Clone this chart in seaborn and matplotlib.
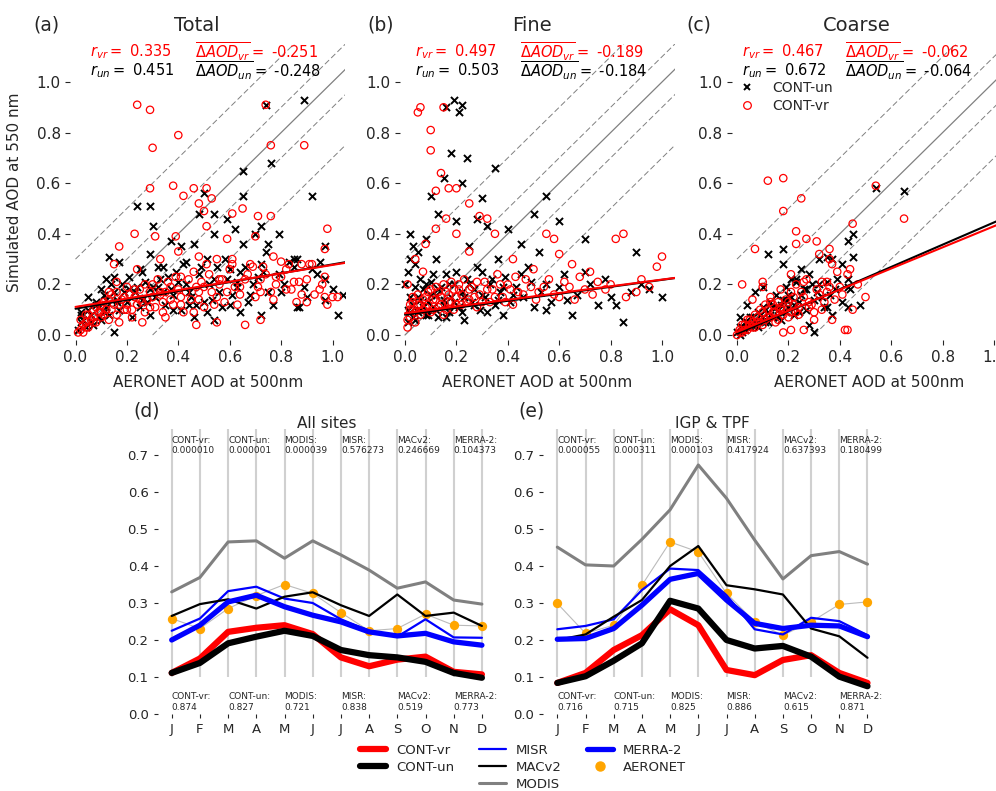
"""
plot.py  -  simulated vs AERONET AOD scatter (a-c) + monthly AOD climatology (d-e)
"""

import numpy as np
import matplotlib
matplotlib.use('Agg')
import matplotlib.pyplot as plt
from matplotlib.lines import Line2D
import seaborn as sns

# ── scatter data : AERONET AOD (x) vs simulated AOD (y) ──────────────────────
TOTAL_UN_X = [0.74, 0.89, 0.76, 0.65, 0.65, 0.92, 0.24, 0.29, 0.50, 0.54, 0.48, 0.59, 0.30,
              0.37, 0.41, 0.46, 0.54, 0.62, 0.70, 0.72, 0.79, 0.75, 0.65, 0.13, 0.17, 0.15,
              0.29, 0.34, 0.29, 0.25, 0.43, 0.51, 0.60, 0.74, 0.85, 0.86, 0.95, 0.97, 1.04,
              1.02, 0.97, 0.86, 0.80, 0.72, 0.64, 0.54, 0.46, 0.15, 0.02, 0.05, 0.10, 0.12,
              0.01, 0.02, 0.04, 0.06, 0.07, 0.09, 0.10, 0.12, 0.13, 0.15, 0.17, 0.18, 0.20,
              0.22, 0.23, 0.25, 0.27, 0.29, 0.31, 0.33, 0.35, 0.37, 0.39, 0.41, 0.43, 0.45,
              0.48, 0.50, 0.52, 0.55, 0.57, 0.59, 0.61, 0.64, 0.67, 0.69, 0.72, 0.75, 0.79,
              0.83, 0.87, 0.89, 0.92, 0.97, 0.03, 0.08, 0.11, 0.16, 0.21, 0.26, 0.32, 0.38,
              0.44, 0.53, 0.63, 0.71,
              0.02, 0.03, 0.05, 0.06, 0.08, 0.09, 0.11, 0.12, 0.14, 0.16, 0.19, 0.21, 0.24,
              0.26, 0.28, 0.30, 0.32, 0.34, 0.36, 0.38, 0.40, 0.42, 0.44, 0.47, 0.49, 0.51,
              0.54, 0.56, 0.58, 0.60, 0.63, 0.66, 0.68, 0.73, 0.77, 0.81, 0.85, 0.90, 0.94,
              1.00]
TOTAL_UN_Y = [0.91, 0.93, 0.68, 0.65, 0.55, 0.55, 0.51, 0.51, 0.56, 0.48, 0.48, 0.46, 0.43,
              0.37, 0.35, 0.36, 0.40, 0.42, 0.40, 0.43, 0.40, 0.36, 0.36, 0.31, 0.29, 0.23,
              0.32, 0.27, 0.18, 0.26, 0.29, 0.30, 0.26, 0.33, 0.30, 0.30, 0.29, 0.35, 0.16,
              0.08, 0.14, 0.11, 0.17, 0.08, 0.09, 0.06, 0.07, 0.01, 0.09, 0.15, 0.18, 0.22,
              0.02, 0.05, 0.03, 0.08, 0.04, 0.11, 0.06, 0.14, 0.08, 0.17, 0.10, 0.20, 0.13,
              0.07, 0.17, 0.11, 0.21, 0.08, 0.15, 0.22, 0.12, 0.18, 0.25, 0.10, 0.20, 0.15,
              0.24, 0.13, 0.20, 0.27, 0.11, 0.22, 0.16, 0.25, 0.13, 0.20, 0.28, 0.17, 0.24,
              0.29, 0.11, 0.19, 0.26, 0.22, 0.06, 0.12, 0.09, 0.13, 0.18, 0.14, 0.19, 0.16,
              0.12, 0.14, 0.19, 0.23,
              0.08, 0.06, 0.10, 0.05, 0.13, 0.07, 0.16, 0.11, 0.20, 0.14, 0.17, 0.23, 0.19,
              0.25, 0.13, 0.19, 0.27, 0.17, 0.23, 0.10, 0.21, 0.28, 0.17, 0.12, 0.27, 0.09,
              0.22, 0.17, 0.30, 0.12, 0.21, 0.27, 0.16, 0.25, 0.12, 0.20, 0.27, 0.15, 0.24,
              0.18]

TOTAL_VR_X = [0.24, 0.29, 0.40, 0.30, 0.74, 0.89, 0.76, 0.29, 0.38, 0.42, 0.46, 0.51, 0.53,
              0.48, 0.50, 0.65, 0.61, 0.23, 0.17, 0.31, 0.39, 0.51, 0.59, 0.71, 0.76, 0.70,
              0.98, 0.97, 0.97, 0.91, 1.02, 0.97, 0.90, 0.72, 0.66, 0.55, 0.47, 0.15, 0.16,
              0.24, 0.33, 0.40, 0.48, 0.55, 0.61, 0.69, 0.77, 0.83, 0.87, 0.82, 0.78, 0.72,
              0.64, 0.56, 0.48, 0.41, 0.33, 0.25, 0.20, 0.13, 0.10, 0.07, 0.04, 0.03,
              0.02, 0.03, 0.05, 0.06, 0.08, 0.09, 0.10, 0.12, 0.13, 0.15, 0.16, 0.18, 0.19,
              0.21, 0.22, 0.24, 0.25, 0.27, 0.28, 0.30, 0.31, 0.33, 0.35, 0.36, 0.38, 0.40,
              0.42, 0.44, 0.45, 0.47, 0.50, 0.52, 0.53, 0.56, 0.58, 0.60, 0.62, 0.66, 0.70,
              0.74, 0.78, 0.82, 0.86, 0.90, 0.95, 1.00, 0.01, 0.04, 0.07, 0.11, 0.14, 0.17,
              0.20, 0.23, 0.26, 0.29, 0.34, 0.37, 0.41, 0.46, 0.49, 0.55, 0.63, 0.68, 0.72,
              0.76, 0.80, 0.84, 0.88, 0.93, 0.98,
              0.02, 0.04, 0.05, 0.07, 0.08, 0.10, 0.11, 0.13, 0.14, 0.16, 0.17, 0.19, 0.20,
              0.22, 0.23, 0.26, 0.27, 0.29, 0.30, 0.32, 0.34, 0.35, 0.37, 0.39, 0.41, 0.43,
              0.46, 0.48, 0.50, 0.51, 0.54, 0.57, 0.59, 0.61, 0.64, 0.67, 0.71, 0.73, 0.77,
              0.80, 0.85, 0.88, 0.92, 0.96]
TOTAL_VR_Y = [0.91, 0.89, 0.79, 0.74, 0.91, 0.75, 0.75, 0.58, 0.59, 0.55, 0.58, 0.58, 0.54,
              0.52, 0.49, 0.50, 0.48, 0.40, 0.35, 0.39, 0.39, 0.43, 0.38, 0.47, 0.47, 0.39,
              0.42, 0.34, 0.23, 0.28, 0.15, 0.15, 0.13, 0.06, 0.04, 0.05, 0.04, 0.28, 0.21,
              0.26, 0.30, 0.33, 0.31, 0.30, 0.28, 0.27, 0.31, 0.28, 0.21, 0.18, 0.23, 0.17,
              0.19, 0.22, 0.17, 0.23, 0.17, 0.14, 0.10, 0.17, 0.09, 0.05, 0.03, 0.01,
              0.02, 0.04, 0.03, 0.06, 0.05, 0.09, 0.07, 0.10, 0.06, 0.12, 0.08, 0.14, 0.10,
              0.16, 0.07, 0.12, 0.18, 0.09, 0.14, 0.20, 0.11, 0.16, 0.07, 0.21, 0.12, 0.18,
              0.09, 0.22, 0.14, 0.19, 0.11, 0.24, 0.17, 0.20, 0.13, 0.26, 0.19, 0.22, 0.15,
              0.24, 0.20, 0.26, 0.13, 0.22, 0.18, 0.15, 0.01, 0.08, 0.10, 0.13, 0.16, 0.05,
              0.12, 0.15, 0.05, 0.17, 0.13, 0.19, 0.15, 0.09, 0.21, 0.15, 0.12, 0.28, 0.22,
              0.17, 0.23, 0.18, 0.28, 0.16, 0.12,
              0.06, 0.05, 0.08, 0.07, 0.11, 0.12, 0.08, 0.14, 0.10, 0.17, 0.12, 0.15, 0.19,
              0.10, 0.18, 0.13, 0.20, 0.11, 0.15, 0.22, 0.09, 0.17, 0.14, 0.23, 0.12, 0.17,
              0.25, 0.14, 0.19, 0.28, 0.12, 0.22, 0.17, 0.30, 0.16, 0.24, 0.19, 0.27, 0.14,
              0.29, 0.21, 0.16, 0.28, 0.20]

FINE_UN_X = [0.19, 0.16, 0.21, 0.22, 0.35, 0.18, 0.24, 0.55, 0.50, 0.22, 0.15, 0.30, 0.10,
             0.13, 0.20, 0.32, 0.40, 0.28, 0.60, 0.70, 0.45, 0.52, 0.90, 0.95, 1.00, 0.80,
             0.85, 0.65, 0.55, 0.38, 0.01, 0.02, 0.03, 0.00, 0.04, 0.05, 0.02, 0.06, 0.08,
             0.12, 0.25, 0.36, 0.48, 0.62, 0.75, 0.72,
             0.01, 0.02, 0.03, 0.04, 0.05, 0.06, 0.07, 0.08, 0.09, 0.10, 0.11, 0.12, 0.13,
             0.14, 0.15, 0.16, 0.17, 0.18, 0.19, 0.21, 0.22, 0.23, 0.24, 0.26, 0.27, 0.29,
             0.30, 0.31, 0.33, 0.35, 0.37, 0.39, 0.41, 0.43, 0.46, 0.49, 0.53, 0.57, 0.60,
             0.67, 0.78, 0.88,
             0.01, 0.02, 0.03, 0.04, 0.05, 0.06, 0.07, 0.08, 0.09, 0.10, 0.11, 0.12, 0.13,
             0.15, 0.16, 0.17, 0.19, 0.20, 0.22, 0.23, 0.25, 0.27, 0.28, 0.30, 0.32, 0.34,
             0.36, 0.38, 0.42, 0.45, 0.50, 0.55, 0.63, 0.70, 0.82, 0.92]
FINE_UN_Y = [0.93, 0.90, 0.88, 0.91, 0.66, 0.72, 0.70, 0.55, 0.48, 0.60, 0.62, 0.54, 0.55,
             0.48, 0.45, 0.43, 0.42, 0.46, 0.45, 0.38, 0.36, 0.33, 0.33, 0.18, 0.15, 0.15,
             0.05, 0.08, 0.10, 0.08, 0.25, 0.30, 0.35, 0.20, 0.28, 0.33, 0.40, 0.22, 0.38,
             0.30, 0.35, 0.30, 0.27, 0.24, 0.12, 0.20,
             0.05, 0.09, 0.12, 0.06, 0.15, 0.10, 0.18, 0.08, 0.13, 0.21, 0.11, 0.16, 0.07,
             0.19, 0.12, 0.24, 0.09, 0.15, 0.20, 0.11, 0.17, 0.06, 0.22, 0.13, 0.18, 0.10,
             0.25, 0.15, 0.20, 0.12, 0.17, 0.23, 0.13, 0.19, 0.15, 0.21, 0.17, 0.13, 0.19,
             0.16, 0.22, 0.17,
             0.10, 0.15, 0.07, 0.19, 0.09, 0.14, 0.11, 0.20, 0.08, 0.16, 0.24, 0.10, 0.18,
             0.14, 0.07, 0.20, 0.13, 0.25, 0.09, 0.15, 0.20, 0.12, 0.27, 0.16, 0.09, 0.22,
             0.14, 0.19, 0.16, 0.24, 0.11, 0.20, 0.14, 0.25, 0.12, 0.20]

FINE_VR_X = [0.05, 0.06, 0.15, 0.10, 0.10, 0.14, 0.17, 0.20, 0.12, 0.25, 0.16, 0.29, 0.32,
             0.12, 0.20, 0.08, 0.35, 0.55, 0.58, 0.60, 0.82, 0.85, 1.00, 0.98, 0.72, 0.42,
             0.25, 0.07, 0.04, 0.01, 0.03, 0.02, 0.65, 0.78, 0.92, 0.50,
             0.01, 0.02, 0.03, 0.04, 0.05, 0.06, 0.07, 0.08, 0.09, 0.10, 0.11, 0.12, 0.13,
             0.14, 0.15, 0.16, 0.17, 0.18, 0.19, 0.20, 0.21, 0.22, 0.23, 0.25, 0.26, 0.28,
             0.29, 0.31, 0.33, 0.34, 0.36, 0.38, 0.40, 0.42, 0.44, 0.47, 0.51, 0.54, 0.58,
             0.62, 0.66, 0.70, 0.75, 0.86, 0.95,
             0.01, 0.02, 0.03, 0.04, 0.05, 0.06, 0.07, 0.08, 0.09, 0.10, 0.11, 0.12, 0.13,
             0.14, 0.15, 0.16, 0.17, 0.18, 0.19, 0.20, 0.21, 0.22, 0.24, 0.25, 0.27, 0.28,
             0.30, 0.32, 0.35, 0.37, 0.39, 0.41, 0.43, 0.46, 0.49, 0.52, 0.56, 0.60, 0.64,
             0.68, 0.73, 0.80, 0.90]
FINE_VR_Y = [0.88, 0.90, 0.90, 0.81, 0.73, 0.64, 0.58, 0.58, 0.57, 0.52, 0.46, 0.47, 0.46,
             0.42, 0.40, 0.36, 0.40, 0.40, 0.38, 0.32, 0.38, 0.40, 0.31, 0.27, 0.25, 0.30,
             0.33, 0.25, 0.30, 0.20, 0.15, 0.12, 0.28, 0.18, 0.22, 0.26,
             0.03, 0.07, 0.10, 0.05, 0.12, 0.08, 0.14, 0.11, 0.17, 0.09, 0.14, 0.19, 0.11,
             0.15, 0.08, 0.17, 0.13, 0.21, 0.10, 0.15, 0.18, 0.12, 0.22, 0.14, 0.19, 0.11,
             0.16, 0.21, 0.13, 0.18, 0.24, 0.15, 0.20, 0.12, 0.17, 0.22, 0.14, 0.19, 0.16,
             0.21, 0.14, 0.18, 0.21, 0.15, 0.19,
             0.06, 0.10, 0.13, 0.09, 0.16, 0.12, 0.10, 0.15, 0.12, 0.18, 0.10, 0.14, 0.17,
             0.12, 0.20, 0.10, 0.16, 0.13, 0.18, 0.12, 0.20, 0.16, 0.13, 0.18, 0.15, 0.21,
             0.13, 0.18, 0.15, 0.20, 0.13, 0.18, 0.23, 0.16, 0.19, 0.17, 0.22, 0.15, 0.19,
             0.23, 0.16, 0.20, 0.17]

COARSE_UN_X = [0.54, 0.65, 0.12, 0.18, 0.45, 0.43, 0.45, 0.32, 0.35, 0.37, 0.41, 0.18,
               0.25, 0.07, 0.10, 0.21, 0.23, 0.27, 0.31, 0.35, 0.43, 0.43, 0.43, 0.37,
               0.35, 0.30, 0.28, 0.24, 0.19, 0.15, 0.04, 0.01,
               0.00, 0.01, 0.02, 0.03, 0.04, 0.05, 0.06, 0.07, 0.08, 0.09, 0.10, 0.11,
               0.12, 0.13, 0.14, 0.15, 0.16, 0.17, 0.18, 0.19, 0.20, 0.21, 0.22, 0.23,
               0.24, 0.26, 0.28, 0.30, 0.32, 0.34, 0.36, 0.39, 0.41, 0.44, 0.48,
               0.01, 0.02, 0.03, 0.04, 0.05, 0.06, 0.07, 0.08, 0.09, 0.10, 0.11, 0.12,
               0.13, 0.14, 0.16, 0.17, 0.19, 0.20, 0.22, 0.25, 0.27, 0.29, 0.33, 0.38]
COARSE_UN_Y = [0.58, 0.57, 0.32, 0.34, 0.40, 0.37, 0.31, 0.30, 0.31, 0.30, 0.28, 0.28,
               0.26, 0.17, 0.19, 0.22, 0.21, 0.18, 0.17, 0.21, 0.19, 0.22, 0.11, 0.08,
               0.11, 0.01, 0.04, 0.09, 0.14, 0.11, 0.12, 0.07,
               0.01, 0.00, 0.03, 0.02, 0.05, 0.03, 0.07, 0.04, 0.09, 0.06, 0.11, 0.05,
               0.09, 0.13, 0.07, 0.16, 0.10, 0.06, 0.14, 0.19, 0.11, 0.15, 0.08, 0.22,
               0.13, 0.18, 0.24, 0.14, 0.20, 0.11, 0.16, 0.22, 0.13, 0.18, 0.12,
               0.03, 0.01, 0.05, 0.03, 0.07, 0.04, 0.06, 0.03, 0.08, 0.07, 0.10, 0.05,
               0.08, 0.11, 0.07, 0.12, 0.09, 0.16, 0.12, 0.16, 0.10, 0.20, 0.15, 0.18]

COARSE_VR_X = [0.12, 0.18, 0.25, 0.18, 0.54, 0.65, 0.23, 0.23, 0.27, 0.31, 0.45, 0.44,
               0.07, 0.36, 0.32, 0.02, 0.10, 0.10, 0.21, 0.26, 0.33, 0.39, 0.43, 0.37,
               0.36, 0.35, 0.37, 0.43, 0.42, 0.30, 0.26, 0.21, 0.18, 0.28, 0.23, 0.17,
               0.13, 0.06,
               0.00, 0.01, 0.02, 0.03, 0.04, 0.05, 0.06, 0.07, 0.08, 0.09, 0.10, 0.11,
               0.12, 0.13, 0.14, 0.15, 0.16, 0.17, 0.18, 0.19, 0.20, 0.21, 0.22, 0.23,
               0.24, 0.26, 0.27, 0.29, 0.31, 0.33, 0.35, 0.38, 0.40, 0.45, 0.47, 0.50,
               0.01, 0.02, 0.03, 0.04, 0.05, 0.06, 0.07, 0.08, 0.09, 0.10, 0.11, 0.12,
               0.13, 0.14, 0.15, 0.16, 0.17, 0.18, 0.20, 0.21, 0.22, 0.24, 0.25, 0.28,
               0.30, 0.32, 0.34, 0.36, 0.41]
COARSE_VR_Y = [0.61, 0.62, 0.54, 0.49, 0.59, 0.46, 0.41, 0.36, 0.38, 0.37, 0.44, 0.26,
               0.34, 0.34, 0.32, 0.20, 0.21, 0.19, 0.24, 0.21, 0.21, 0.25, 0.24, 0.28,
               0.30, 0.17, 0.06, 0.02, 0.02, 0.06, 0.02, 0.02, 0.01, 0.11, 0.09, 0.10,
               0.13, 0.14,
               0.00, 0.02, 0.01, 0.04, 0.02, 0.06, 0.03, 0.08, 0.05, 0.10, 0.04, 0.12,
               0.07, 0.15, 0.09, 0.05, 0.13, 0.18, 0.10, 0.14, 0.07, 0.17, 0.12, 0.20,
               0.08, 0.15, 0.22, 0.12, 0.18, 0.10, 0.21, 0.14, 0.19, 0.10, 0.20, 0.15,
               0.01, 0.04, 0.02, 0.06, 0.04, 0.05, 0.03, 0.07, 0.05, 0.09, 0.06, 0.10,
               0.07, 0.12, 0.09, 0.06, 0.11, 0.08, 0.13, 0.09, 0.15, 0.11, 0.17, 0.13,
               0.09, 0.16, 0.13, 0.19, 0.16]

# regression fits (intercept, slope) and statistics printed in each panel
FIT_VR = [(0.111, 0.166), (0.086, 0.133), (0.012, 0.418)]
FIT_UN = [(0.104, 0.175), (0.080, 0.138), (0.005, 0.440)]
R_VR = ['0.335', '0.497', '0.467']
R_UN = ['0.451', '0.503', '0.672']
BIAS_VR = ['-0.251', '-0.189', '-0.062']
BIAS_UN = ['-0.248', '-0.184', '-0.064']
PANEL_TITLES = ['Total', 'Fine', 'Coarse']
REF_OFFSETS = [-0.3, -0.1, 0.0, 0.1, 0.3]

# ── monthly mean AOD ────────────────────────────────────────────────────────
MONTHS = ['J', 'F', 'M', 'A', 'M', 'J', 'J', 'A', 'S', 'O', 'N', 'D']

ALL_CONT_VR = [0.111, 0.150, 0.222, 0.233, 0.240, 0.216, 0.153, 0.129, 0.147, 0.155, 0.114, 0.107]
ALL_CONT_UN = [0.111, 0.138, 0.191, 0.209, 0.225, 0.211, 0.173, 0.159, 0.153, 0.141, 0.111, 0.098]
ALL_MISR = [0.225, 0.258, 0.332, 0.344, 0.312, 0.300, 0.256, 0.225, 0.209, 0.256, 0.207, 0.206]
ALL_MACV2 = [0.265, 0.297, 0.310, 0.285, 0.317, 0.329, 0.294, 0.265, 0.323, 0.265, 0.274, 0.238]
ALL_MODIS = [0.330, 0.369, 0.465, 0.468, 0.421, 0.468, 0.430, 0.389, 0.340, 0.357, 0.308, 0.297]
ALL_MERRA2 = [0.200, 0.240, 0.303, 0.321, 0.290, 0.267, 0.249, 0.222, 0.211, 0.218, 0.195, 0.186]
ALL_AERONET = [0.258, 0.231, 0.285, 0.320, 0.350, 0.326, 0.274, 0.225, 0.231, 0.270, 0.240, 0.238]

IGP_CONT_VR = [0.084, 0.111, 0.173, 0.213, 0.283, 0.240, 0.119, 0.105, 0.146, 0.159, 0.111, 0.084]
IGP_CONT_UN = [0.084, 0.102, 0.144, 0.191, 0.306, 0.285, 0.200, 0.177, 0.184, 0.155, 0.101, 0.075]
IGP_MISR = [0.229, 0.238, 0.256, 0.335, 0.393, 0.389, 0.321, 0.229, 0.215, 0.260, 0.251, 0.213]
IGP_MACV2 = [0.200, 0.215, 0.263, 0.308, 0.400, 0.454, 0.348, 0.337, 0.323, 0.231, 0.210, 0.152]
IGP_MODIS = [0.451, 0.403, 0.400, 0.472, 0.552, 0.673, 0.583, 0.470, 0.365, 0.428, 0.439, 0.405]
IGP_MERRA2 = [0.202, 0.204, 0.231, 0.294, 0.364, 0.380, 0.308, 0.245, 0.231, 0.240, 0.238, 0.209]
IGP_AERONET = [0.299, 0.218, 0.240, 0.348, 0.465, 0.438, 0.326, 0.249, 0.213, 0.249, 0.296, 0.303]

STAT_NAMES = ['CONT-vr:', 'CONT-un:', 'MODIS:', 'MISR:', 'MACv2:', 'MERRA-2:']
ALL_PVAL = ['0.000010', '0.000001', '0.000039', '0.576273', '0.246669', '0.104373']
ALL_CORR = ['0.874', '0.827', '0.721', '0.838', '0.519', '0.773']
IGP_PVAL = ['0.000055', '0.000311', '0.000103', '0.417924', '0.637393', '0.180499']
IGP_CORR = ['0.716', '0.715', '0.825', '0.886', '0.615', '0.871']

# ── style ───────────────────────────────────────────────────────────────────
sns.set_style('ticks')
plt.rcParams['font.family'] = ['DejaVu Sans']
plt.rcParams['mathtext.fontset'] = 'dejavusans'

W, H = 996, 791
fig = plt.figure(figsize=(W / 100, H / 100), dpi=100)


def px_axes(left, top, right, bottom):
    return fig.add_axes([left / W, 1 - bottom / H, (right - left) / W, (bottom - top) / H])


def hide_spines(ax):
    for s in ax.spines.values():
        s.set_visible(False)


# ── (a)-(c) scatter panels ───────────────────────────────────────────────────
scatter_sets = [
    (TOTAL_UN_X, TOTAL_UN_Y, TOTAL_VR_X, TOTAL_VR_Y),
    (FINE_UN_X, FINE_UN_Y, FINE_VR_X, FINE_VR_Y),
    (COARSE_UN_X, COARSE_UN_Y, COARSE_VR_X, COARSE_VR_Y),
]
x0_px = [75.5, 405.0, 737.0]
kx, ky = 257.0, 253.0
stat_x_r = [0.056, 0.039, 0.018]
stat_x_b = [0.465, 0.447, 0.419]
title_x = [0.472, 0.493, 0.467]
letters_px = [(46.7, 25), (380.5, 25), (699, 25)]

for i, (ux, uy, vx, vy) in enumerate(scatter_sets):
    x0 = x0_px[i]
    ax = px_axes(x0 - 0.02 * kx, 335 - 1.15 * ky, x0 + 1.05 * kx, 335 + 0.02 * ky)
    ax.set_xlim(-0.02, 1.05)
    ax.set_ylim(-0.02, 1.15)
    hide_spines(ax)

    for c in REF_OFFSETS:
        xs = np.array([max(0.0, -c), 1.2])
        if c == 0:
            ax.plot(xs, xs + c, color='gray', lw=0.9, zorder=1)
        else:
            ax.plot(xs, xs + c, color='gray', lw=0.7, ls=(0, (6, 3)), zorder=1)

    sns.scatterplot(x=ux, y=uy, marker='x', color='black', s=26, linewidth=1.4,
                    ax=ax, zorder=3)
    sns.scatterplot(x=vx, y=vy, marker='o', s=28, facecolor='none', edgecolor='red',
                    linewidth=0.9, ax=ax, zorder=4)

    xl = np.array([0.0, 1.05])
    a, b = FIT_UN[i]
    ax.plot(xl, a + b * xl, color='black', lw=1.5, zorder=5)
    a, b = FIT_VR[i]
    ax.plot(xl, a + b * xl, color='red', lw=1.5, zorder=6)

    ax.set_xticks(np.arange(0, 1.01, 0.2))
    ax.set_yticks(np.arange(0, 1.01, 0.2))
    ax.tick_params(labelsize=11, length=3.5)
    ax.set_xlabel('AERONET AOD at 500nm', fontsize=11, labelpad=7)
    if i == 0:
        ax.set_ylabel('Simulated AOD at 550 nm', fontsize=11, labelpad=10)

    ax.text(stat_x_r[i], 1.12, rf'$r_{{vr}} = $ {R_VR[i]}', color='red',
            fontsize=10.5, va='center', clip_on=False)
    ax.text(stat_x_r[i], 1.045, rf'$r_{{un}} = $ {R_UN[i]}', color='black',
            fontsize=10.5, va='center', clip_on=False)
    ax.text(stat_x_b[i], 1.12, r'$\overline{\Delta AOD_{vr}} = $ ' + BIAS_VR[i],
            color='red', fontsize=10.5, va='center', clip_on=False)
    ax.text(stat_x_b[i], 1.045, r'$\overline{\Delta AOD_{un}} = $ ' + BIAS_UN[i],
            color='black', fontsize=10.5, va='center', clip_on=False)
    ax.text(title_x[i], 1.225, PANEL_TITLES[i], fontsize=14, ha='center',
            va='center', clip_on=False)
    lx, ly = letters_px[i]
    fig.text(lx / W, 1 - ly / H, f'({"abc"[i]})', fontsize=13.5, ha='center', va='center')

    if i == 2:
        handles = [Line2D([], [], ls='none', marker='x', color='black', ms=5, mew=1.4),
                   Line2D([], [], ls='none', marker='o', mfc='none', mec='red', ms=5.5, mew=0.9)]
        ax.legend(handles, ['CONT-un', 'CONT-vr'], loc='upper left',
                  bbox_to_anchor=(0.03, 0.875), frameon=False, fontsize=10,
                  handlelength=1.0, handletextpad=1.3, labelspacing=0.3,
                  borderpad=0, borderaxespad=0)

# ── (d)-(e) monthly panels ───────────────────────────────────────────────────
month_sets = [
    ('All sites', ALL_CONT_VR, ALL_CONT_UN, ALL_MISR, ALL_MACV2, ALL_MODIS, ALL_MERRA2,
     ALL_AERONET, ALL_PVAL, ALL_CORR),
    ('IGP & TPF', IGP_CONT_VR, IGP_CONT_UN, IGP_MISR, IGP_MACV2, IGP_MODIS, IGP_MERRA2,
     IGP_AERONET, IGP_PVAL, IGP_CORR),
]
jan_px = [171.7, 557.3]
kmx, kmy = 28.2, 370.0
mletters_px = [(147, 411), (531, 411)]
idx = np.arange(len(MONTHS))

for j, (title, vr, un, misr, mac, modis, merra, aer, pvals, corrs) in enumerate(month_sets):
    jx = jan_px[j]
    ax = px_axes(jx - 0.5 * kmx, 714 - 0.77 * kmy, jx + 11.5 * kmx, 714)
    ax.set_xlim(-0.5, 11.5)
    ax.set_ylim(0, 0.77)
    hide_spines(ax)

    ax.vlines(idx, 0.1, 0.77, color='#d0d0d0', lw=1.5, zorder=0)

    # AERONET sits underneath the model / satellite curves
    sns.lineplot(x=idx, y=aer, color='#bbbbbb', lw=0.8, ax=ax, zorder=1)
    sns.scatterplot(x=idx, y=aer, color='orange', s=45, linewidth=0, ax=ax, zorder=1.5)

    sns.lineplot(x=idx, y=vr, color='red', lw=4.5, ax=ax, zorder=2)
    sns.lineplot(x=idx, y=un, color='black', lw=4.5, ax=ax, zorder=3)
    sns.lineplot(x=idx, y=misr, color='blue', lw=1.6, ax=ax, zorder=4)
    sns.lineplot(x=idx, y=mac, color='black', lw=1.6, ax=ax, zorder=4)
    sns.lineplot(x=idx, y=modis, color='gray', lw=2.2, ax=ax, zorder=4)
    sns.lineplot(x=idx, y=merra, color='blue', lw=3.8, ax=ax, zorder=4)

    for k, name in enumerate(STAT_NAMES):
        ax.text(idx[2 * k], 0.752, f'{name}\n{pvals[k]}', fontsize=6.5,
                ha='left', va='top', clip_on=False)
        ax.text(idx[2 * k], 0.006, f'{name}\n{corrs[k]}', fontsize=6.5,
                ha='left', va='bottom', clip_on=False)

    ax.set_xticks(idx)
    ax.set_xticklabels(MONTHS)
    ax.set_yticks(np.arange(0, 0.71, 0.1))
    ax.set_yticklabels([f'{v:.1f}' for v in np.arange(0, 0.71, 0.1)])
    ax.tick_params(labelsize=9.5, length=3)
    ax.set_xlabel('')
    ax.set_ylabel('')
    ax.text(5.5, 0.785, title, fontsize=11, ha='center', va='center', clip_on=False)
    lx, ly = mletters_px[j]
    fig.text(lx / W, 1 - ly / H, f'({"de"[j]})', fontsize=13.5, ha='center', va='center')

# ── shared legend ────────────────────────────────────────────────────────────
blank = Line2D([], [], ls='none')
leg_handles = [
    Line2D([], [], color='red', lw=4.5),
    Line2D([], [], color='black', lw=4.5),
    blank,
    Line2D([], [], color='blue', lw=1.6),
    Line2D([], [], color='black', lw=1.6),
    Line2D([], [], color='gray', lw=2.2),
    Line2D([], [], color='blue', lw=3.8),
    Line2D([], [], ls='none', marker='o', color='orange', ms=6.5),
    blank,
]
leg_labels = ['CONT-vr', 'CONT-un', '', 'MISR', 'MACv2', 'MODIS', 'MERRA-2', 'AERONET', '']
fig.legend(leg_handles, leg_labels, ncol=3, loc='upper left',
           bbox_to_anchor=(360 / W, 1 - 744 / H), frameon=False, fontsize=9.5,
           handlelength=2.0, handletextpad=0.75, columnspacing=1.9, labelspacing=0.29,
           borderpad=0, borderaxespad=0)

fig.savefig('out.png', dpi=100)
